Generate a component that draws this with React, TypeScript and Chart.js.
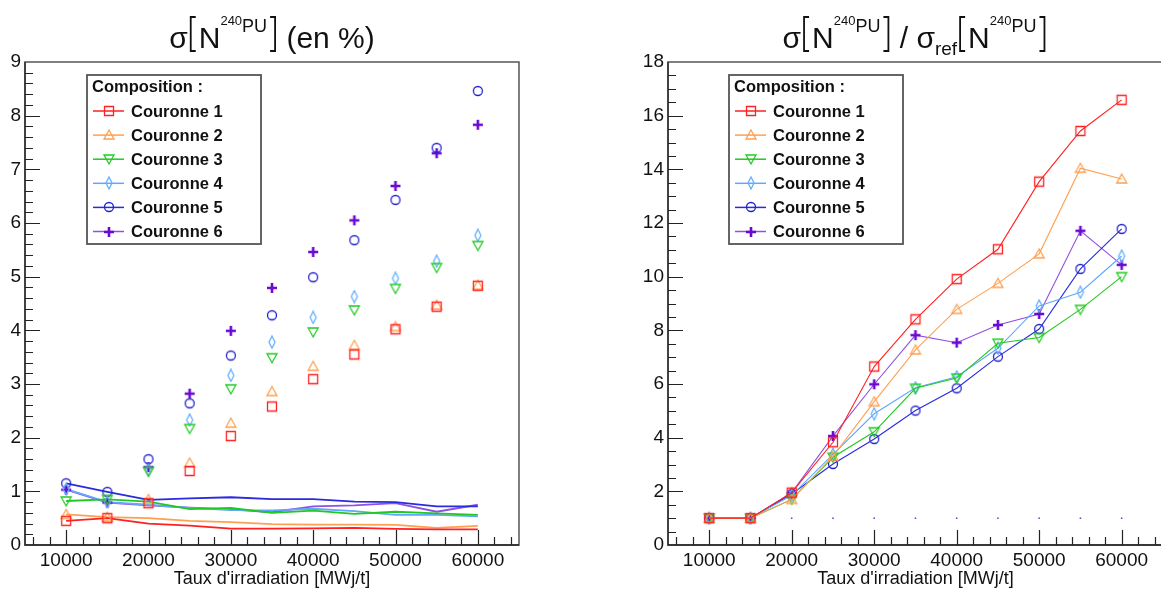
import React, { useEffect, useRef } from 'react';
import { Chart, registerables } from 'chart.js';

Chart.register(...registerables);

// ---------------- DATA ----------------
const burnup = [10000, 15000, 20000, 25000, 30000, 35000, 40000, 45000, 50000, 55000, 60000];
const seriesNames = ['Couronne 1', 'Couronne 2', 'Couronne 3', 'Couronne 4', 'Couronne 5', 'Couronne 6'];
const legendHeader = 'Composition :';
const xAxisTitle = "Taux d'irradiation [MWj/t]";

// sigma[N 240Pu] in %
const sigmaC1 = [0.45, 0.50, 0.78, 1.38, 2.03, 2.58, 3.09, 3.55, 4.02, 4.44, 4.83];
const sigmaC2 = [0.57, 0.52, 0.85, 1.53, 2.27, 2.86, 3.33, 3.72, 4.07, 4.47, 4.84];
const sigmaC3 = [0.82, 0.85, 1.37, 2.17, 2.91, 3.49, 3.97, 4.38, 4.78, 5.17, 5.58];
const sigmaC4 = [1.04, 0.80, 1.40, 2.33, 3.16, 3.78, 4.24, 4.63, 4.97, 5.29, 5.77];
const sigmaC5 = [1.15, 0.99, 1.60, 2.64, 3.53, 4.28, 4.99, 5.68, 6.43, 7.40, 8.46];
const sigmaC6 = [1.03, 0.79, 1.45, 2.82, 3.99, 4.79, 5.46, 6.05, 6.69, 7.30, 7.83];

// reference sigma (lines, left plot)
const sigmaRefC1 = [0.45, 0.50, 0.40, 0.36, 0.305, 0.305, 0.31, 0.32, 0.30, 0.29, 0.29];
const sigmaRefC2 = [0.57, 0.52, 0.50, 0.45, 0.425, 0.39, 0.38, 0.38, 0.375, 0.32, 0.355];
const sigmaRefC3 = [0.82, 0.85, 0.81, 0.67, 0.69, 0.60, 0.64, 0.58, 0.62, 0.59, 0.56];
const sigmaRefC4 = [1.04, 0.80, 0.75, 0.69, 0.65, 0.645, 0.675, 0.63, 0.56, 0.56, 0.535];
const sigmaRefC5 = [1.15, 0.99, 0.84, 0.87, 0.89, 0.855, 0.855, 0.81, 0.80, 0.72, 0.72];
const sigmaRefC6 = [1.03, 0.79, 0.74, 0.695, 0.665, 0.61, 0.72, 0.74, 0.78, 0.62, 0.75];

// ratio sigma / sigma_ref (right plot)
const ratioC1 = [1, 1, 1.95, 3.83, 6.65, 8.41, 9.91, 11.02, 13.54, 15.43, 16.59];
const ratioC2 = [1, 1, 1.70, 3.30, 5.34, 7.27, 8.78, 9.75, 10.85, 14.04, 13.64];
const ratioC3 = [1, 1, 1.70, 3.27, 4.22, 5.84, 6.22, 7.52, 7.73, 8.78, 10.0];
const ratioC4 = [1, 1, 1.85, 3.38, 4.89, 5.86, 6.27, 7.33, 8.91, 9.42, 10.77];
const ratioC5 = [1, 1, 1.90, 3.02, 3.95, 5.01, 5.84, 7.02, 8.05, 10.29, 11.78];
const ratioC6 = [1, 1, 1.95, 4.06, 5.99, 7.82, 7.54, 8.20, 8.61, 11.71, 10.44];
const ratioUnity = [1, 1, 1, 1, 1, 1, 1, 1, 1, 1, 1];

const xTicks = [10000, 20000, 30000, 40000, 50000, 60000];
const yTicksLeft = [0, 1, 2, 3, 4, 5, 6, 7, 8, 9];
const yTicksRight = [0, 2, 4, 6, 8, 10, 12, 14, 16, 18];

const sigmaSeries = [sigmaC1, sigmaC2, sigmaC3, sigmaC4, sigmaC5, sigmaC6];
const sigmaRefSeries = [sigmaRefC1, sigmaRefC2, sigmaRefC3, sigmaRefC4, sigmaRefC5, sigmaRefC6];
const ratioSeries = [ratioC1, ratioC2, ratioC3, ratioC4, ratioC5, ratioC6];

// ---------------- STYLE ----------------
const FONT = '"Liberation Sans", Arial, Helvetica, sans-serif';
const markerColors = ['#ff2222', '#ff9f50', '#22cc22', '#66b0ff', '#2222cc', '#6a0ad0'];
const lineColors = ['#ff2020', '#ffa050', '#22c822', '#60a8ff', '#2a2ae0', '#9050e0'];
const markerKinds = ['square', 'triUp', 'triDown', 'diamond', 'circle', 'cross'];

function makeMarker(kind: string, color: string): HTMLCanvasElement {
  const c = document.createElement('canvas');
  const S = 14;
  c.width = S;
  c.height = S;
  const g = c.getContext('2d')!;
  const m = 7;
  g.strokeStyle = color;
  g.lineWidth = 1.3;
  g.beginPath();
  switch (kind) {
    case 'square':
      g.rect(m - 4.5, m - 4.5, 9, 9);
      break;
    case 'triUp':
      g.moveTo(m, m - 5);
      g.lineTo(m + 5, m + 4);
      g.lineTo(m - 5, m + 4);
      g.closePath();
      break;
    case 'triDown':
      g.moveTo(m, m + 5);
      g.lineTo(m + 5, m - 4);
      g.lineTo(m - 5, m - 4);
      g.closePath();
      break;
    case 'diamond':
      g.moveTo(m, m - 6);
      g.lineTo(m + 3, m);
      g.lineTo(m, m + 6);
      g.lineTo(m - 3, m);
      g.closePath();
      break;
    case 'circle':
      g.arc(m, m, 4.5, 0, Math.PI * 2);
      break;
    case 'cross':
      g.lineWidth = 2.6;
      g.moveTo(m - 5, m);
      g.lineTo(m + 5, m);
      g.moveTo(m, m - 5);
      g.lineTo(m, m + 5);
      break;
  }
  g.stroke();
  return c;
}

type Seg = { t?: string; size?: number; dy?: number; br?: 'open' | 'close' };

function drawTitle(ctx: CanvasRenderingContext2D, segs: Seg[], cx: number, base: number) {
  const widths = segs.map((s) => {
    if (s.br) return 11;
    ctx.font = `${s.size}px ${FONT}`;
    return ctx.measureText(s.t!).width;
  });
  const total = widths.reduce((a, b) => a + b, 0);
  let x = cx - total / 2;
  ctx.fillStyle = '#111';
  ctx.strokeStyle = '#111';
  ctx.textAlign = 'left';
  ctx.textBaseline = 'alphabetic';
  segs.forEach((s, i) => {
    if (s.br) {
      ctx.lineWidth = 1.8;
      ctx.beginPath();
      const top = base - 31;
      const bot = base + 3;
      if (s.br === 'open') {
        ctx.moveTo(x + 8, top);
        ctx.lineTo(x + 3, top);
        ctx.lineTo(x + 3, bot);
        ctx.lineTo(x + 8, bot);
      } else {
        ctx.moveTo(x + 3, top);
        ctx.lineTo(x + 8, top);
        ctx.lineTo(x + 8, bot);
        ctx.lineTo(x + 3, bot);
      }
      ctx.stroke();
    } else {
      ctx.font = `${s.size}px ${FONT}`;
      ctx.fillText(s.t!, x, base + (s.dy || 0));
    }
    x += widths[i];
  });
}

const nPu: Seg[] = [
  { br: 'open' },
  { t: 'N', size: 30 },
  { t: '240', size: 13, dy: -23 },
  { t: 'PU', size: 18, dy: -16 },
  { br: 'close' },
];
const leftTitle: Seg[] = [{ t: 'σ', size: 30 }, ...nPu, { t: ' (en %)', size: 30 }];
const rightTitle: Seg[] = [
  { t: 'σ', size: 30 },
  ...nPu,
  { t: ' / ', size: 30 },
  { t: 'σ', size: 30 },
  { t: 'ref', size: 19, dy: 7 },
  ...nPu,
];

interface FrameCfg {
  yMinor: number;
  yMajorEvery: number;
  yMax: number;
  title: Seg[];
  titleX: number;
  legendX: number;
}

function makeFramePlugin(cfg: FrameCfg, markers: HTMLCanvasElement[]) {
  return {
    id: 'rootFrame',
    afterDraw(chart: any) {
      const ctx: CanvasRenderingContext2D = chart.ctx;
      const a = chart.chartArea;
      const xs = chart.scales.x;
      const ys = chart.scales.y;
      ctx.save();
      // frame
      ctx.strokeStyle = '#555';
      ctx.lineWidth = 1.5;
      ctx.strokeRect(a.left, a.top, a.right - a.left, a.bottom - a.top);
      ctx.strokeStyle = '#222';
      ctx.lineWidth = 1.3;
      ctx.beginPath();
      ctx.moveTo(a.left, a.top);
      ctx.lineTo(a.left, a.bottom);
      ctx.lineTo(a.right, a.bottom);
      ctx.stroke();
      // x ticks
      ctx.lineWidth = 1.2;
      ctx.beginPath();
      for (let i = 0; i <= 29; i++) {
        const v = 6000 + i * 2000;
        const px = Math.round(xs.getPixelForValue(v)) + 0.5;
        const len = v % 10000 === 0 ? 15 : 8;
        ctx.moveTo(px, a.bottom);
        ctx.lineTo(px, a.bottom - len);
      }
      // y ticks
      const n = Math.round(cfg.yMax / cfg.yMinor);
      for (let i = 1; i < n; i++) {
        const v = i * cfg.yMinor;
        const py = Math.round(ys.getPixelForValue(v)) + 0.5;
        const len = i % cfg.yMajorEvery === 0 ? 15 : 8;
        ctx.moveTo(a.left, py);
        ctx.lineTo(a.left + len, py);
      }
      ctx.stroke();
      // x axis title
      ctx.fillStyle = '#111';
      ctx.font = `18px ${FONT}`;
      ctx.textAlign = 'center';
      ctx.textBaseline = 'alphabetic';
      ctx.fillText(xAxisTitle, (a.left + a.right) / 2, 584);
      // title
      drawTitle(ctx, cfg.title, cfg.titleX, 48);
      // legend
      const lx = cfg.legendX;
      const ly = 75;
      const lw = 174;
      const lh = 169;
      ctx.fillStyle = '#fff';
      ctx.fillRect(lx, ly, lw, lh);
      ctx.strokeStyle = '#555';
      ctx.lineWidth = 1.8;
      ctx.strokeRect(lx, ly, lw, lh);
      ctx.fillStyle = '#111';
      ctx.textAlign = 'left';
      ctx.textBaseline = 'middle';
      ctx.font = `bold 16.5px ${FONT}`;
      ctx.fillText(legendHeader, lx + 5, ly + 12);
      seriesNames.forEach((name, i) => {
        const cy = ly + 36 + i * 24.1;
        ctx.strokeStyle = lineColors[i];
        ctx.lineWidth = 1.5;
        ctx.beginPath();
        ctx.moveTo(lx + 6, cy);
        ctx.lineTo(lx + 37, cy);
        ctx.stroke();
        const mk = markers[i];
        ctx.drawImage(mk, Math.round(lx + 21.5 - mk.width / 2), Math.round(cy - mk.height / 2));
        ctx.fillStyle = '#111';
        ctx.fillText(name, lx + 44, cy + 1);
      });
      ctx.restore();
    },
  };
}

function xScale() {
  return {
    type: 'linear',
    min: 5000,
    max: 65000,
    afterBuildTicks: (s: any) => {
      s.ticks = xTicks.map((v) => ({ value: v }));
    },
    afterFit: (s: any) => {
      s.height = 47;
    },
    grid: { display: false, drawTicks: false },
    border: { display: false },
    ticks: {
      font: { family: FONT, size: 19 },
      color: '#111',
      padding: 4,
      maxRotation: 0,
      autoSkip: false,
      callback: (v: any) => String(v),
    },
  };
}

function yScale(max: number, ticks: number[]) {
  return {
    type: 'linear',
    min: 0,
    max,
    afterBuildTicks: (s: any) => {
      s.ticks = ticks.map((v) => ({ value: v }));
    },
    afterFit: (s: any) => {
      s.width = 25;
    },
    grid: { display: false, drawTicks: false },
    border: { display: false },
    ticks: {
      font: { family: FONT, size: 19 },
      color: '#111',
      padding: 4,
      autoSkip: false,
      callback: (v: any) => String(v),
    },
  };
}

const toPts = (arr: number[]) => burnup.map((x, i) => ({ x, y: arr[i] }));

function buildLeft(): any {
  const markers = markerKinds.map((k, i) => makeMarker(k, markerColors[i]));
  const datasets: any[] = [];
  sigmaSeries.forEach((arr, i) => {
    datasets.push({
      label: seriesNames[i],
      data: toPts(arr),
      showLine: false,
      pointStyle: markers[i],
      pointRadius: 5,
      borderColor: markerColors[i],
      backgroundColor: markerColors[i],
    });
  });
  sigmaRefSeries.forEach((arr, i) => {
    datasets.push({
      label: seriesNames[i] + ' ref',
      data: toPts(arr),
      showLine: true,
      pointRadius: 0,
      borderColor: lineColors[i],
      borderWidth: 1.8,
      tension: 0,
    });
  });
  return {
    type: 'scatter',
    data: { datasets },
    options: {
      animation: false,
      responsive: false,
      events: [],
      layout: { padding: { left: 0, top: 62, right: 61, bottom: 0 } },
      plugins: { legend: { display: false }, title: { display: false }, tooltip: { enabled: false } },
      scales: { x: xScale(), y: yScale(9, yTicksLeft) },
    },
    plugins: [
      makeFramePlugin(
        { yMinor: 0.2, yMajorEvery: 5, yMax: 9, title: leftTitle, titleX: 272, legendX: 87 },
        markers,
      ),
    ],
  };
}

function buildRight(): any {
  const markers = markerKinds.map((k, i) => makeMarker(k, markerColors[i]));
  const datasets: any[] = [];
  ratioSeries.forEach((arr, i) => {
    datasets.push({
      label: seriesNames[i],
      data: toPts(arr),
      showLine: true,
      pointStyle: markers[i],
      pointRadius: 5,
      borderColor: lineColors[i],
      backgroundColor: lineColors[i],
      borderWidth: 1.1,
      tension: 0,
    });
  });
  datasets.push({
    label: 'unity',
    data: toPts(ratioUnity),
    showLine: false,
    pointStyle: 'circle',
    pointRadius: 0.9,
    borderWidth: 0,
    backgroundColor: '#8a40d8',
  });
  return {
    type: 'scatter',
    data: { datasets },
    options: {
      animation: false,
      responsive: false,
      events: [],
      layout: { padding: { left: 63, top: 62, right: 0, bottom: 0 } },
      plugins: { legend: { display: false }, title: { display: false }, tooltip: { enabled: false } },
      scales: { x: xScale(), y: yScale(18, yTicksRight) },
    },
    plugins: [
      makeFramePlugin(
        { yMinor: 0.5, yMajorEvery: 4, yMax: 18, title: rightTitle, titleX: 335, legendX: 149 },
        markers,
      ),
    ],
  };
}

function ChartCanvas({ build, left, width }: { build: () => any; left: number; width: number }) {
  const ref = useRef<HTMLCanvasElement>(null);
  useEffect(() => {
    const chart = new Chart(ref.current!, build());
    return () => chart.destroy();
  }, [build]);
  return (
    <canvas
      ref={ref}
      width={width}
      height={592}
      style={{ position: 'absolute', left, top: 0, width, height: 592, display: 'block' }}
    />
  );
}

export default function App() {
  return (
    <div
      style={{
        position: 'fixed',
        left: 0,
        top: 0,
        width: 1161,
        height: 592,
        overflow: 'hidden',
        background: '#fff',
      }}
    >
      <ChartCanvas build={buildLeft} left={0} width={580} />
      <ChartCanvas build={buildRight} left={580} width={589} />
    </div>
  );
}
